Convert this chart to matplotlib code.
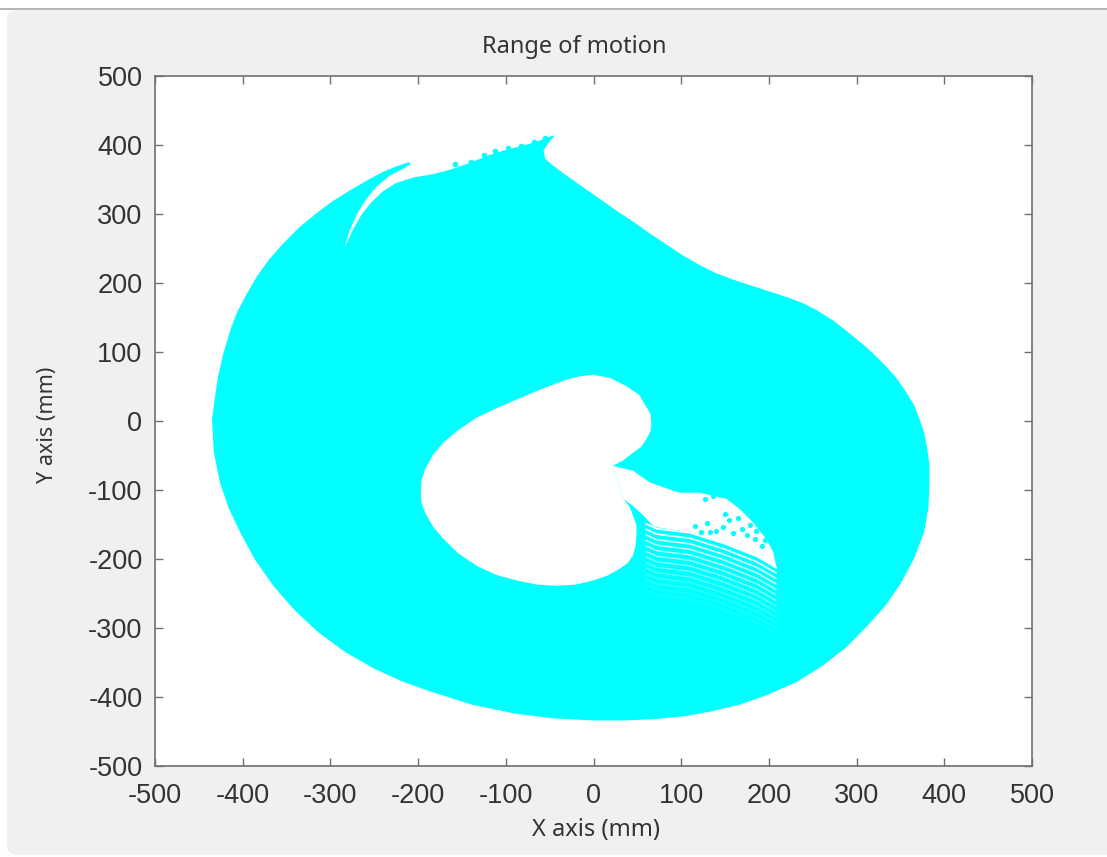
import matplotlib
matplotlib.use("Agg")
import matplotlib.pyplot as plt
from matplotlib.patches import FancyBboxPatch
from matplotlib.lines import Line2D

# ---------------- data (mm) ----------------
outer_x = [-435, -432, -428, -422, -415, -407, -396, -384, -370, -354, -336, -316,
           -298, -278, -259, -240, -225, -211, -208,
           -215, -233, -248, -260, -270, -278, -284,
           -281, -274, -265, -254, -241, -225, -205, -182, -164,
           -150, -135, -120, -105, -90, -75, -60, -50, -44,
           -52, -57, -55, -46, -30, -12, 7, 26, 45, 64, 83, 102, 121, 140, 159,
           178, 195, 212, 224, 240, 254, 274, 292, 312, 330, 345, 357, 366, 372,
           377, 380, 383, 383, 382, 377, 366, 351, 334, 313, 289, 262, 232, 198,
           167, 134, 103, 70, 35, 0, -45, -90, -139, -186, -219, -250, -283,
           -314, -341, -365, -386, -403, -416, -426, -433]
outer_y = [2, 31, 65, 98, 128, 156, 183, 209, 234, 257, 280, 301,
           318, 334, 348, 361, 369, 375, 373,
           367, 355, 339, 320, 299, 276, 252,
           259, 278, 298, 316, 332, 345, 353, 358, 364,
           370, 377, 385, 391, 396, 401, 407, 412, 414,
           402, 392, 380, 370, 355, 339, 322, 305, 289, 272, 256, 240, 226, 214, 205,
           197, 190, 183, 178, 170, 161, 145, 127, 106, 84, 63, 41, 22, 2,
           -17, -36, -62, -89, -125, -161, -198, -234, -266, -296, -327, -354, -378, -397,
           -411, -421, -428, -432, -434, -434, -431, -424, -411, -392, -377, -359, -335,
           -306, -274, -239, -201, -161, -126, -89, -45]

rim_dot_x = [-158, -140, -125, -112, -97, -83, -68, -55]
rim_dot_y = [372, 376, 386, 391, 395, 399, 404, 410]

hole_x = [0, 20, 38, 52, 60, 65, 66, 65, 60, 54, 45, 34, 22,
          34, 41, 45, 49, 49, 48, 45, 39, 30, 16, 0, -20, -42, -65, -88, -111,
          -133, -154, -171, -183, -192, -196, -197, -196, -192, -183, -171, -153,
          -133, -110, -88, -60, -31, -15]
hole_y = [67, 62, 50, 38, 21, 10, -3, -15, -27, -38, -46, -57, -65,
          -113, -124, -137, -151, -166, -181, -195, -206, -214, -224, -231, -237, -239,
          -237, -231, -223, -210, -192, -171, -153, -133, -119, -104, -86, -70, -49,
          -31, -12, 5, 19, 31, 46, 60, 65]

gap_x = [22, 45, 64, 98, 121, 152, 167, 182, 197, 205, 209,
         186, 148, 110, 72, 68, 57, 45, 34]
gap_y = [-65, -72, -89, -104, -104, -113, -128, -147, -171, -190, -215,
         -195, -176, -161, -154, -152, -137, -123, -113]

stripe_x = [60, 72, 110, 148, 186, 208]
stripe_y = [-149, -156, -162, -177, -196, -212]
stripe_offsets = [0, -8, -16, -24, -32, -40, -48, -56, -64, -72, -80, -88, -96]

dot_x = [116, 129, 148, 155, 169, 178, 123, 133, 140, 159, 175, 184, 192,
         127, 136, 83, 150, 165, 185, 196]
dot_y = [-152, -148, -153, -143, -157, -151, -161, -161, -160, -163, -165, -171, -181,
         -113, -109, -92, -135, -140, -160, -172]

x_ticks = [-500, -400, -300, -200, -100, 0, 100, 200, 300, 400, 500]
y_ticks = [-500, -400, -300, -200, -100, 0, 100, 200, 300, 400, 500]

# ---------------- figure ----------------
W, H = 1107, 857
fig = plt.figure(figsize=(W / 100, H / 100), dpi=100)
fig.patch.set_facecolor("white")

panel = FancyBboxPatch((7 / W, 2 / H), (W - 7 + 20) / W, (H - 10 - 2) / H,
                       boxstyle="round,pad=0,rounding_size=0.01",
                       transform=fig.transFigure, facecolor="#f0f0f0",
                       edgecolor="none", zorder=-10)
fig.patches.append(panel)
fig.lines.append(Line2D([0, 1], [1 - 8.5 / H, 1 - 8.5 / H], transform=fig.transFigure,
                        color="#a8a8a8", linewidth=1.2, zorder=-9))

ax = fig.add_axes([155 / W, 1 - 766 / H, (1032 - 155) / W, (766 - 76) / H])
ax.set_facecolor("white")

cyan = "#00ffff"
ax.fill(outer_x, outer_y, color=cyan, lw=0, zorder=1)
ax.scatter(rim_dot_x, rim_dot_y, s=16, color=cyan, linewidths=0, zorder=1)
ax.fill(hole_x, hole_y, color="white", lw=0, zorder=2)
ax.fill(gap_x, gap_y, color="white", lw=0, zorder=3)

for i, off in enumerate(stripe_offsets):
    ax.plot(stripe_x, [v + off for v in stripe_y], color="white",
            lw=1.3 - 0.06 * i, alpha=max(0.15, 1.0 - 0.075 * i),
            solid_capstyle="round", zorder=4)

ax.scatter(dot_x, dot_y, s=14, color=cyan, linewidths=0, zorder=5)

ax.set_xlim(-500, 500)
ax.set_ylim(-500, 500)
ax.set_xticks(x_ticks)
ax.set_yticks(y_ticks)
ax.set_xticklabels([str(v) for v in x_ticks])
ax.set_yticklabels([str(v) for v in y_ticks])

for s in ax.spines.values():
    s.set_color("#707070")
    s.set_linewidth(1.2)

ax.tick_params(axis="both", direction="in", length=5.5, width=1.0, color="#707070",
               top=True, right=True, labelsize=19.5, labelcolor="#333333")
ax.tick_params(axis="x", pad=12)
ax.tick_params(axis="y", pad=9)
for lab in ax.get_xticklabels() + ax.get_yticklabels():
    lab.set_family(["Liberation Sans", "DejaVu Sans"])

fig.text(574.5 / W, 1 - 47 / H, "Range of motion", ha="center", va="center",
         fontsize=17, color="#333333", family=["Noto Sans", "DejaVu Sans"])
fig.text(596 / W, 1 - 830 / H, "X axis (mm)", ha="center", va="center",
         fontsize=17, color="#333333", family=["Noto Sans", "DejaVu Sans"])
fig.text(48 / W, 1 - 425 / H, "Y axis (mm)", ha="center", va="center",
         rotation=90, fontsize=15.5, color="#333333", family=["Noto Sans", "DejaVu Sans"])

fig.savefig("out.png", dpi=100, facecolor=fig.get_facecolor())
